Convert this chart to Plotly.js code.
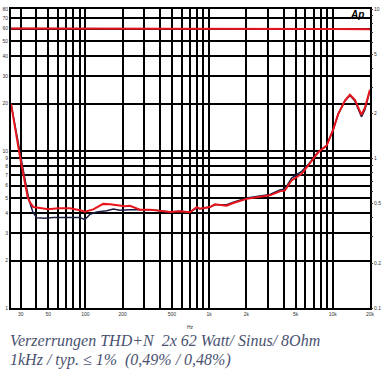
<!DOCTYPE html>
<html><head><meta charset="utf-8">
<script src="https://cdn.plot.ly/plotly-3.0.1.min.js"></script>
<style>html,body{margin:0;padding:0;background:#fff}#c{width:385px;height:381px}</style>
</head><body><div id="c"></div>
<script>
// THD+N (%) vs frequency (Hz)
const freqRed = [25,25.9,27.8,29.6,31.4,32.9,34.1,35.6,37.9,41.6,50.1,60.2,75,90.3,99,115.7,139,158,184,209,229,276,333,401,482,581,700,793,843,1016,1115,1386,1568,2012,2575,3102,3737,4103,4645,5598,6330,7627,8913,10080,11070,12540,13760,15100,17050,18200,19970];
const thdRed  = [2.33,1.94,1.32,1.02,0.79,0.644,0.552,0.509,0.473,0.468,0.457,0.464,0.464,0.45,0.44,0.457,0.497,0.494,0.486,0.479,0.483,0.454,0.455,0.447,0.439,0.443,0.437,0.473,0.462,0.473,0.494,0.484,0.504,0.537,0.552,0.567,0.603,0.612,0.714,0.791,0.898,1.10,1.22,1.56,1.99,2.44,2.67,2.47,1.96,2.19,2.88];
const freqBlk = [25,28.2,32.1,35.0,37.6,40.4,47.1,55,70.5,90.3,99,109,123,148.5,168,190,229,276,333,401,482,581,700,793,843,1016,1115,1386,1568,2012,2575,3102,3737,4103,4645,5598,6330,7627,8913,10080,11070,12540,13760,15100,17050,18200,19970];
const thdBlk  = [2.33,1.32,0.759,0.525,0.437,0.401,0.398,0.403,0.403,0.403,0.39,0.424,0.439,0.447,0.46,0.45,0.454,0.454,0.455,0.447,0.439,0.443,0.437,0.468,0.462,0.473,0.49,0.49,0.51,0.545,0.56,0.575,0.615,0.625,0.74,0.82,0.91,1.11,1.22,1.56,1.98,2.42,2.64,2.42,1.9,2.12,2.85];
// upper level trace
const freqTop = [25,1000,5000,10000,20000];
const topRed  = [7.41,7.41,7.41,7.36,7.32];

// axis ticks
const xTickVals = [30,40,50,60,70,80,90,100,200,300,400,500,600,700,800,900,1000,2000,3000,4000,5000,6000,7000,8000,9000,10000,20000];
const xTickText = ["30","","50","","","","","100","200","","","500","","","","","1k","2k","","","5k","","","","","10k","20k"];
const yLeftVals = [1,2,3,4,5,6,7,8,9,10,20,30,40,50,60,70,80];
const yLeftText = ["1","2","3","4","5","6","7","8","9","10","20","30","40","50","60","70","80"];
const yRightVals = [0.1,0.2,0.3,0.4,0.5,0.6,0.7,0.8,0.9,1,2,3,4,5,6,7,8,9,10];
const yRightText = ["0.1","0.2","","","0.5","","","","","1","2","","","5","","","","","10"];

const traces = [
  {x:[25], y:[1], yaxis:'y', mode:'markers', marker:{opacity:0}, hoverinfo:'skip'},
  {x:freqTop, y:topRed, yaxis:'y2', mode:'lines', line:{color:'#2a2050', width:1.5}, hoverinfo:'skip'},
  {x:freqTop, y:topRed, yaxis:'y2', mode:'lines', line:{color:'#e8141c', width:2}, hoverinfo:'skip'},
  {x:freqBlk, y:thdBlk, yaxis:'y2', mode:'lines', line:{color:'#1e1e44', width:1.5}},
  {x:freqRed, y:thdRed, yaxis:'y2', mode:'lines', line:{color:'#e8141c', width:2}}
];

const layout = {
  width:385, height:381, showlegend:false,
  paper_bgcolor:'#fff', plot_bgcolor:'#fff',
  margin:{l:11, r:15, t:9, b:73, pad:0},
  font:{family:'Arial, Liberation Sans, sans-serif', size:5, color:'#333'},
  xaxis:{type:'log', range:[Math.log10(25), Math.log10(20000)], tickmode:'array',
         tickvals:xTickVals, ticktext:xTickText, ticks:'', showgrid:true, gridcolor:'#000', gridwidth:2,
         showline:true, mirror:true, linecolor:'#000', linewidth:2, zeroline:false,
         tickfont:{size:5, color:'#333'}},
  yaxis:{type:'log', range:[0, Math.log10(80)], tickmode:'array', tickvals:yLeftVals, ticktext:yLeftText,
         ticks:'', showgrid:true, gridcolor:'#000', gridwidth:2, showline:true, mirror:true,
         linecolor:'#000', linewidth:2, zeroline:false, tickfont:{size:5, color:'#333'}},
  yaxis2:{type:'log', range:[-1, 1], overlaying:'y', side:'right', tickmode:'array',
          tickvals:yRightVals, ticktext:yRightText, ticks:'outside', ticklen:2, tickwidth:1, tickcolor:'#333',
          showgrid:false, showline:false, zeroline:false, tickfont:{size:5, color:'#333'}},
  annotations:[
    {text:'Hz', xref:'paper', yref:'paper', x:0.5, y:-0.08, showarrow:false, font:{size:5, color:'#333'}},
    {text:'<b><i>Ap</i></b>', xref:'paper', yref:'paper', x:0.99, y:0.983, xanchor:'right', yanchor:'middle', showarrow:false, font:{size:10, color:'#000', family:'Liberation Sans'}},
    {text:'Verzerrungen THD+N\u00a0 2x 62 Watt/ Sinus/ 8Ohm', xref:'paper', yref:'paper', x:-0.0084, y:-0.112,
     xanchor:'left', yanchor:'middle', showarrow:false, font:{family:'Liberation Serif, serif', size:16, style:'italic', color:'#4a5270'}},
    {text:'1kHz / typ. \u2264 1%\u00a0 (0,49% / 0,48%)', xref:'paper', yref:'paper', x:-0.0084, y:-0.174,
     xanchor:'left', yanchor:'middle', showarrow:false, font:{family:'Liberation Serif, serif', size:16, style:'italic', color:'#4a5270'}}
  ]
};
Plotly.newPlot('c', traces, layout, {staticPlot:true, displayModeBar:false});
</script></body></html>
